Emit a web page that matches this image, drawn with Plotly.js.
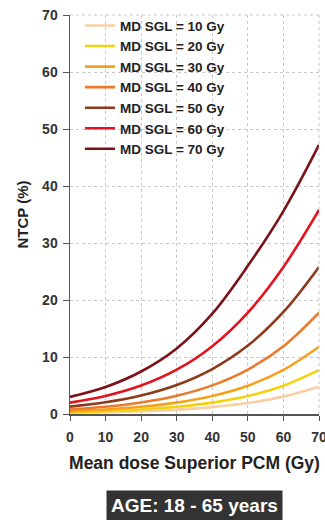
<!DOCTYPE html>
<html>
<head>
<meta charset="utf-8">
<script src="https://cdn.plot.ly/plotly-3.0.1.min.js"></script>
<style>html,body{margin:0;padding:0;background:#fff;overflow:hidden;}#chart{width:325px;height:520px;}</style>
</head>
<body>
<div id="chart"></div>
<script>
const doseX = [0, 10, 20, 30, 40, 50, 60, 70];
const seriesNames = ["MD SGL = 10 Gy","MD SGL = 20 Gy","MD SGL = 30 Gy","MD SGL = 40 Gy","MD SGL = 50 Gy","MD SGL = 60 Gy","MD SGL = 70 Gy"];
const sgl10 = [0.19, 0.30, 0.48, 0.76, 1.21, 1.93, 3.05, 4.8];
const sgl20 = [0.31, 0.50, 0.79, 1.26, 2.00, 3.16, 4.97, 7.7];
const sgl30 = [0.50, 0.79, 1.26, 2.00, 3.16, 4.97, 7.73, 11.8];
const sgl40 = [0.80, 1.27, 2.02, 3.20, 5.02, 7.8, 11.9, 17.8];
const sgl50 = [1.3, 2.06, 3.25, 5.09, 7.89, 12.0, 17.9, 25.8];
const sgl60 = [2.0, 3.17, 4.99, 7.77, 11.9, 17.8, 25.8, 35.8];
const sgl70 = [3.0, 4.74, 7.46, 11.5, 17.6, 26.0, 35.6, 47.2];
const colors = ["#F8CFA4","#F2D20C","#F4A21C","#EC7A2A","#8E3A1A","#E3121C","#7C1218"];
const allY = [sgl10, sgl20, sgl30, sgl40, sgl50, sgl60, sgl70];
const xTicks = [0,10,20,30,40,50,60,70];
const yTicks = [0,10,20,30,40,50,60,70];

const traces = allY.map((ys, i) => ({
  x: doseX, y: ys, name: seriesNames[i], type: 'scatter', mode: 'lines',
  line: {color: colors[i], width: 2.6, shape: 'spline', smoothing: 1.0}
}));

const FF = 'Liberation Sans, Arial, sans-serif';
const tickFont = {family: FF, size: 14, color: '#333333', weight: 'bold'};
const layout = {
  width: 325, height: 520,
  margin: {l: 70, r: 6, t: 15, b: 106},
  paper_bgcolor: '#ffffff', plot_bgcolor: '#ffffff',
  showlegend: true,
  legend: {x: 0.04, y: 1.012, xanchor: 'left', yanchor: 'top', bgcolor: 'rgba(0,0,0,0)',
    font: {family: FF, size: 13.5, color: '#222', weight: 'bold'},
    tracegroupgap: 0, itemwidth: 30, traceorder: 'normal'},
  xaxis: {
    range: [0, 70], tickvals: xTicks, ticktext: xTicks.map(String),
    showgrid: true, gridcolor: '#c8c8c8', griddash: 'dot', gridwidth: 1,
    showline: true, linecolor: '#555', linewidth: 1.5,
    ticks: 'outside', ticklen: 5, tickcolor: '#555', ticklabelstandoff: 5,
    ticklabeloverflow: 'allow',
    zeroline: false, tickfont: tickFont,
    title: {text: 'Mean dose Superior PCM (Gy)', standoff: 12,
      font: {family: FF, size: 17.5, color: '#222', weight: 'bold'}}
  },
  yaxis: {
    range: [0, 70], tickvals: yTicks, ticktext: yTicks.map(String),
    showgrid: true, gridcolor: '#c8c8c8', griddash: 'dot', gridwidth: 1,
    showline: true, linecolor: '#555', linewidth: 1.5,
    ticks: 'outside', ticklen: 6, tickcolor: '#555', ticklabelstandoff: 2,
    zeroline: false, tickfont: tickFont,
    title: {text: 'NTCP (%)', standoff: 10,
      font: {family: FF, size: 15, color: '#222', weight: 'bold'}}
  },
  shapes: [
    {type: 'line', xref: 'paper', yref: 'paper', x0: 0, x1: 1, y0: 1, y1: 1, line: {color: '#c8c8c8', width: 1, dash: 'dot'}},
    {type: 'line', xref: 'paper', yref: 'paper', x0: 1, x1: 1, y0: 0, y1: 1, line: {color: '#c8c8c8', width: 1, dash: 'dot'}}
  ],
  annotations: [{
    xref: 'paper', yref: 'paper', x: 0.5, y: -0.19, xanchor: 'center', yanchor: 'top',
    text: 'AGE: 18 - 65 years', showarrow: false,
    bgcolor: '#333333', borderpad: 4,
    font: {family: FF, size: 19, color: '#ffffff', weight: 'bold'}
  }]
};
Plotly.newPlot('chart', traces, layout, {displayModeBar: false, staticPlot: true});
</script>
</body>
</html>
